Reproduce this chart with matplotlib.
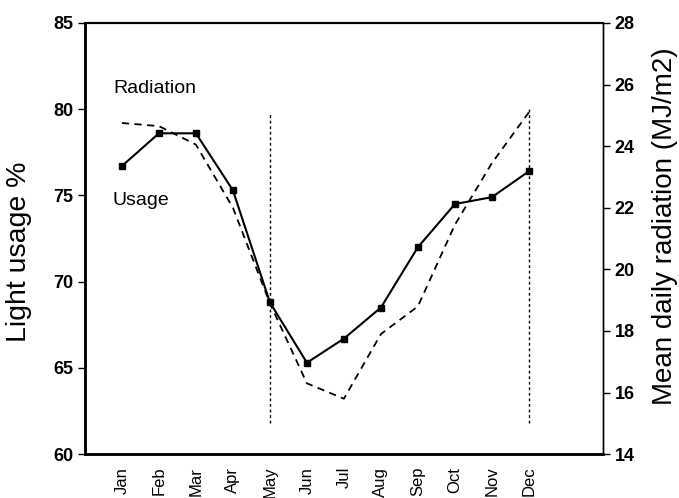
import matplotlib
matplotlib.use("Agg")
import matplotlib.pyplot as plt
import numpy as np

MONTHS = ["Jan", "Feb", "Mar", "Apr", "May", "Jun",
          "Jul", "Aug", "Sep", "Oct", "Nov", "Dec"]
USAGE = [76.7, 78.6, 78.6, 75.3, 68.8, 65.3, 66.7, 68.5, 72.0, 74.5, 74.9, 76.4]
RADIATION = [24.75, 24.65, 24.05, 22.0, 18.9, 16.3, 15.8, 17.9, 18.8, 21.45, 23.45, 25.1]
MARK_MONTHS = [5, 12]
MARK_RANGE = [(61.8, 79.8), (61.8, 80.1)]

plt.rcParams["font.family"] = ["Liberation Sans", "DejaVu Sans"]

fig = plt.figure(figsize=(6.79, 4.98), dpi=100)
ax = fig.add_axes([0.125, 0.088, 0.763, 0.866])
ax2 = ax.twinx()

x = np.arange(1, len(MONTHS) + 1)

ax.plot(x, USAGE, color="black", lw=1.5, marker="s", markersize=4, zorder=3)
ax2.plot(x, RADIATION, color="black", lw=1.3, linestyle=(0, (4, 3)), zorder=2)

for m, (lo, hi) in zip(MARK_MONTHS, MARK_RANGE):
    ax.vlines(m, lo, hi, colors="black", linestyles=(0, (2, 2)), lw=1.0)

ax.set_xlim(0, 14)
ax.set_ylim(60, 85)
ax2.set_ylim(14, 28)

ax.set_yticks([60, 65, 70, 75, 80, 85])
ax2.set_yticks([14, 16, 18, 20, 22, 24, 26, 28])

ax.set_xticks(x)
ax.set_xticklabels(MONTHS, rotation=90, fontsize=12)
ax.tick_params(axis="x", length=0, pad=9)
ax.set_xticks(x[1::2], minor=True)
ax.tick_params(axis="x", which="minor", direction="in", length=6, width=1.2)

ax.tick_params(axis="y", direction="out", length=5, width=1.0, labelsize=13)
ax2.tick_params(axis="y", direction="out", length=5, width=1.0, labelsize=13)
for lab in ax.get_yticklabels() + ax2.get_yticklabels():
    lab.set_fontweight("bold")

ax.set_ylabel("Light usage %", fontsize=20.5)
ax2.set_ylabel("Mean daily radiation (MJ/m2)", fontsize=20)
ax.yaxis.set_label_coords(-0.102, 0.469)
ax2.yaxis.set_label_coords(1.095, 0.529)

ax.text(0.76, 81.2, "Radiation", fontsize=14, va="center", ha="left")
ax.text(0.76, 74.7, "Usage", fontsize=14, va="center", ha="left")

for a in (ax, ax2):
    a.spines["left"].set_linewidth(1.8)
    a.spines["bottom"].set_linewidth(1.8)
    a.spines["top"].set_linewidth(1.5)
    a.spines["right"].set_linewidth(1.0)

fig.savefig("out.png", dpi=100)
plt.close(fig)
